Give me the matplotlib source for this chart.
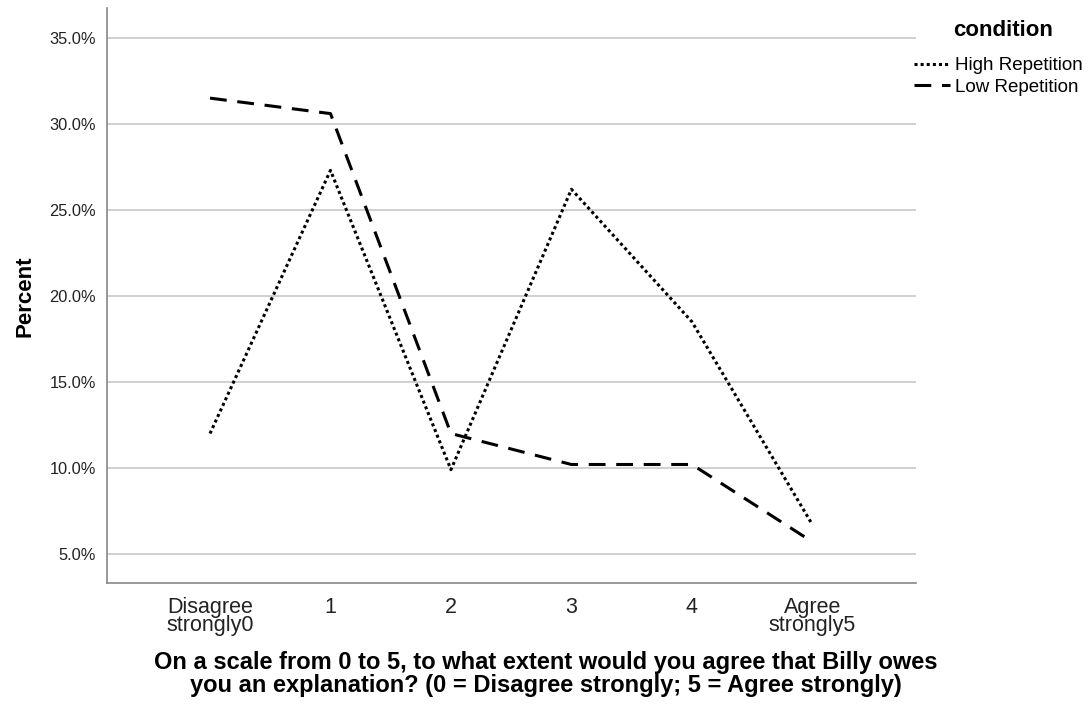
import matplotlib
matplotlib.use("Agg")
import matplotlib.pyplot as plt
from matplotlib.ticker import FuncFormatter

categories = ["Disagree\nstrongly0", "1", "2", "3", "4", "Agree\nstrongly5"]
high_rep = [12.0, 27.3, 9.9, 26.2, 18.5, 6.7]
low_rep = [31.5, 30.6, 12.0, 10.2, 10.2, 5.7]
yticks = [5, 10, 15, 20, 25, 30, 35]

plt.rcParams['font.family'] = ['Liberation Sans', 'DejaVu Sans']

fig = plt.figure(figsize=(10.91, 7.12), dpi=100)
ax = fig.add_axes([107/1091, 1 - 583/712, (916-107)/1091, (583-8)/712])

x = list(range(len(categories)))
l1, = ax.plot(x, high_rep, color='black', lw=2.2, linestyle=(0, (1.0, 1.0)),
              dash_capstyle='butt', label='High Repetition')
l2, = ax.plot(x, low_rep, color='black', lw=2.2, linestyle=(0, (5.5, 3.5)),
              dash_capstyle='butt', label='Low Repetition')

ax.set_xlim(-0.855, 5.86)
ax.set_ylim(3.31, 36.74)
ax.set_yticks(yticks)
ax.yaxis.set_major_formatter(FuncFormatter(lambda v, p: f"{v:.1f}%"))
ax.set_xticks(x)
ax.set_xticklabels(categories, fontsize=15.5, color='#222222', linespacing=0.85)
ax.tick_params(axis='y', length=0, labelsize=11.8, labelcolor='#222222', pad=8)
ax.tick_params(axis='x', length=0, pad=10)
ax.grid(axis='y', color='#c8c8c8', lw=1.2)
ax.set_axisbelow(True)
for s in ['top', 'right']:
    ax.spines[s].set_visible(False)
for s in ['left', 'bottom']:
    ax.spines[s].set_color('#888888')
    ax.spines[s].set_linewidth(1.2)

fig.text(25/1091, 1 - 296/712, "Percent", rotation=90, ha='center', va='center',
         fontsize=16, fontweight='bold')
fig.text(546/1091, 1 - 674/712,
         "On a scale from 0 to 5, to what extent would you agree that Billy owes\n"
         "you an explanation? (0 = Disagree strongly; 5 = Agree strongly)",
         ha='center', va='center', fontsize=17, fontweight='bold', linespacing=0.98)

fig.text(1003/1091, 1 - 31/712, "condition", ha='center', va='center',
         fontsize=16, fontweight='bold')
leg = fig.legend(handles=[l1, l2], loc='upper left', bbox_to_anchor=(914/1091, 1 - 57/712),
                 frameon=False, fontsize=13.5, handlelength=1.9,
                 handletextpad=0.3, labelspacing=0.25, borderaxespad=0, borderpad=0)

fig.savefig("out.png", dpi=100, facecolor='white')
